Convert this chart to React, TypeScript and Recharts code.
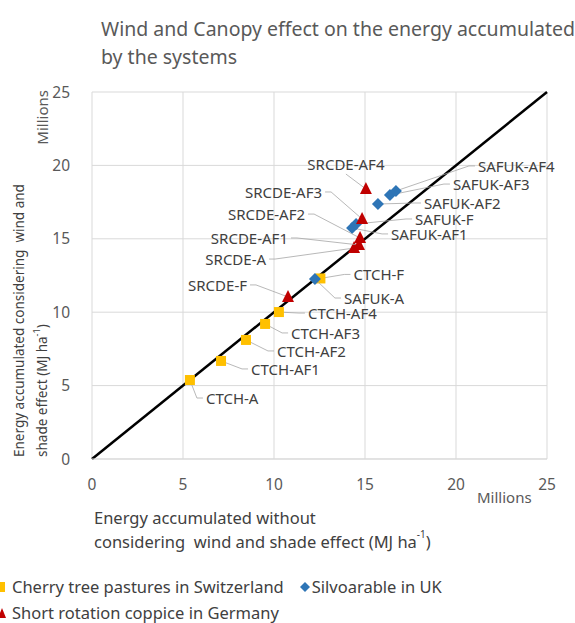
import React from "react";
import {
  ScatterChart,
  Scatter,
  XAxis,
  YAxis,
  CartesianGrid,
  ReferenceLine,
} from "recharts";

// values in millions of MJ ha-1
const ctchNames = ["CTCH-A", "CTCH-AF1", "CTCH-AF2", "CTCH-AF3", "CTCH-AF4", "CTCH-F"];
const ctchX = [5.38, 7.09, 8.46, 9.51, 10.27, 12.55];
const ctchY = [5.38, 6.68, 8.11, 9.2, 10.01, 12.3];

const safukNames = ["SAFUK-A", "SAFUK-AF1", "SAFUK-F", "SAFUK-AF2", "SAFUK-AF3", "SAFUK-AF4"];
const safukX = [12.25, 14.29, 14.51, 15.71, 16.37, 16.7];
const safukY = [12.26, 15.74, 16.01, 17.37, 17.98, 18.26];

const srcdeNames = ["SRCDE-F", "SRCDE-A", "SRCDE-AF1", "SRCDE-AF2", "SRCDE-AF3", "SRCDE-AF4"];
const srcdeX = [10.77, 14.4, 14.67, 14.73, 14.84, 15.05];
const srcdeY = [11.04, 14.37, 14.58, 15.05, 16.35, 18.39];

const ticks = [0, 5, 10, 15, 20, 25];

const seriesNames = [
  "Cherry tree pastures in Switzerland",
  "Silvoarable in UK",
  "Short rotation coppice in Germany",
];

const toPoints = (names: string[], xs: number[], ys: number[]) =>
  names.map((name, i) => ({ name, x: xs[i], y: ys[i] }));

const ctch = toPoints(ctchNames, ctchX, ctchY);
const safuk = toPoints(safukNames, safukX, safukY);
const srcde = toPoints(srcdeNames, srcdeX, srcdeY);

// where each data label sits, relative to its marker (px)
const labelPlacement: Record<string, { dx: number; dy: number; anchor: "start" | "end" | "middle" }> = {
  "CTCH-A": { dx: 16, dy: 18, anchor: "start" },
  "CTCH-AF1": { dx: 30, dy: 8, anchor: "start" },
  "CTCH-AF2": { dx: 31, dy: 11, anchor: "start" },
  "CTCH-AF3": { dx: 26, dy: 9, anchor: "start" },
  "CTCH-AF4": { dx: 29, dy: 1, anchor: "start" },
  "CTCH-F": { dx: 33, dy: -4, anchor: "start" },
  "SAFUK-A": { dx: 29, dy: 19, anchor: "start" },
  "SAFUK-AF1": { dx: 39, dy: 6, anchor: "start" },
  "SAFUK-F": { dx: 59, dy: -5, anchor: "start" },
  "SAFUK-AF2": { dx: 46, dy: -1, anchor: "start" },
  "SAFUK-AF3": { dx: 63, dy: -11, anchor: "start" },
  "SAFUK-AF4": { dx: 82, dy: -25, anchor: "start" },
  "SRCDE-F": { dx: -41, dy: -12, anchor: "end" },
  "SRCDE-A": { dx: -88, dy: 11, anchor: "end" },
  "SRCDE-AF1": { dx: -71, dy: -7, anchor: "end" },
  "SRCDE-AF2": { dx: -55, dy: -24, anchor: "end" },
  "SRCDE-AF3": { dx: -40, dy: -27, anchor: "end" },
  "SRCDE-AF4": { dx: -20, dy: -25, anchor: "middle" },
};

const FONT = "'Noto Sans', sans-serif";
const YELLOW = "#FFC000";
const BLUE = "#2E75B6";
const RED = "#C00000";

const Leader = ({ cx, cy, name }: { cx: number; cy: number; name: string }) => {
  const p = labelPlacement[name];
  if (!p) return null;
  const tx = cx + p.dx;
  const ty = cy + p.dy;
  let pts = "";
  if (p.anchor === "start") pts = `${cx},${cy} ${tx - 9},${ty} ${tx - 3},${ty}`;
  else if (p.anchor === "end") pts = `${cx},${cy} ${tx + 9},${ty} ${tx + 3},${ty}`;
  else pts = `${cx},${cy} ${tx},${ty + 10}`;
  return (
    <g>
      <polyline points={pts} fill="none" stroke="#a6a6a6" strokeWidth={0.8} />
      <text
        x={tx}
        y={ty}
        textAnchor={p.anchor}
        dominantBaseline="central"
        fontFamily={FONT}
        fontSize={15}
        fill="#404040"
      >
        {name}
      </text>
    </g>
  );
};

const makeShape = (kind: "square" | "diamond" | "triangle") => (props: any) => {
  const { cx, cy, payload } = props;
  let mark;
  if (kind === "square") {
    mark = <rect x={cx - 5} y={cy - 5} width={10} height={10} fill={YELLOW} />;
  } else if (kind === "diamond") {
    mark = <polygon points={`${cx},${cy - 6} ${cx + 6},${cy} ${cx},${cy + 6} ${cx - 6},${cy}`} fill={BLUE} />;
  } else {
    mark = <polygon points={`${cx},${cy - 7} ${cx + 6},${cy + 5} ${cx - 6},${cy + 5}`} fill={RED} />;
  }
  return (
    <g>
      <Leader cx={cx} cy={cy} name={payload.name} />
      {mark}
    </g>
  );
};

const LegendIcon = ({ kind }: { kind: string }) => (
  <svg width={10} height={12} style={{ marginRight: 2 }}>
    {kind === "square" && <rect x={0} y={1} width={5} height={10} fill={YELLOW} />}
    {kind === "diamond" && <polygon points="5,1 10,6 5,11 0,6" fill={BLUE} />}
    {kind === "triangle" && <polygon points="2,1 6,11 -2,11" fill={RED} />}
  </svg>
);

const ChartLegend = () => {
  const item = (kind: string, label: string, extra?: React.CSSProperties) => (
    <span style={{ display: "inline-flex", alignItems: "center", ...extra }}>
      <LegendIcon kind={kind} />
      {label}
    </span>
  );
  return (
    <div
      style={{
        position: "absolute",
        left: 0,
        top: 574,
        fontFamily: FONT,
        fontSize: 16.5,
        color: "#404040",
        lineHeight: "26px",
        whiteSpace: "nowrap",
      }}
    >
      <div>
        {item("square", seriesNames[0])}
        {item("diamond", seriesNames[1], { marginLeft: 16 })}
      </div>
      <div>{item("triangle", seriesNames[2])}</div>
    </div>
  );
};

const App = () => {
  return (
    <div style={{ position: "absolute", left: 0, top: 0, width: 575, height: 623, background: "#fff" }}>
      <ScatterChart width={575} height={623} margin={{ top: 92, right: 28, bottom: 134, left: 62 }}>
        <CartesianGrid stroke="#d9d9d9" strokeWidth={1} />
        <XAxis
          type="number"
          dataKey="x"
          domain={[0, 25]}
          ticks={ticks}
          height={30}
          tickLine={false}
          axisLine={{ stroke: "#d9d9d9" }}
          tickMargin={14}
          tick={{ fill: "#595959", fontSize: 15.5, fontFamily: FONT }}
        />
        <YAxis
          type="number"
          dataKey="y"
          domain={[0, 25]}
          ticks={ticks}
          width={30}
          tickLine={false}
          axisLine={false}
          tickMargin={16}
          tick={{ fill: "#595959", fontSize: 15.5, fontFamily: FONT }}
        />
        <ReferenceLine
          segment={[
            { x: ticks[0], y: ticks[0] },
            { x: ticks[ticks.length - 1], y: ticks[ticks.length - 1] },
          ]}
          stroke="#000"
          strokeWidth={2.5}
          ifOverflow="visible"
        />
        <Scatter name={seriesNames[0]} data={ctch} fill={YELLOW} shape={makeShape("square")} isAnimationActive={false} />
        <Scatter name={seriesNames[1]} data={safuk} fill={BLUE} shape={makeShape("diamond")} isAnimationActive={false} />
        <Scatter name={seriesNames[2]} data={srcde} fill={RED} shape={makeShape("triangle")} isAnimationActive={false} />
      </ScatterChart>
      <ChartLegend />
      <svg
        width={575}
        height={623}
        style={{ position: "absolute", left: 0, top: 0, pointerEvents: "none" }}
        fontFamily={FONT}
      >
        <text x={101} y={28} fontSize={19.5} fill="#595959" dominantBaseline="central">
          Wind and Canopy effect on the energy accumulated
        </text>
        <text x={101} y={56} fontSize={19.5} fill="#595959" dominantBaseline="central">
          by the systems
        </text>
        <text
          x={42}
          y={90}
          fontSize={15}
          fill="#595959"
          textAnchor="end"
          dominantBaseline="central"
          transform="rotate(-90 42 90)"
        >
          Millions
        </text>
        <text x={477} y={497} fontSize={15} fill="#595959" dominantBaseline="central">
          Millions
        </text>
        <g fontSize={13.5} fill="#404040">
          <text x={19} y={457} dominantBaseline="central" transform="rotate(-90 19 457)">
            {"Energy accumulated considering\u00a0 wind and"}
          </text>
          <text x={42} y={457} dominantBaseline="central" transform="rotate(-90 42 457)">
            shade effect (MJ ha<tspan fontSize={9} dy={-6}>-1</tspan>
            <tspan dy={6}>)</tspan>
          </text>
        </g>
        <g fontSize={16.5} fill="#404040">
          <text x={94} y={517} dominantBaseline="central">
            Energy accumulated without
          </text>
          <text x={94} y={541} dominantBaseline="central">
            {"considering\u00a0 wind and shade effect (MJ ha"}
            <tspan fontSize={10} dy={-7}>-1</tspan>
            <tspan dy={7}>)</tspan>
          </text>
        </g>
      </svg>
    </div>
  );
};

export default App;
